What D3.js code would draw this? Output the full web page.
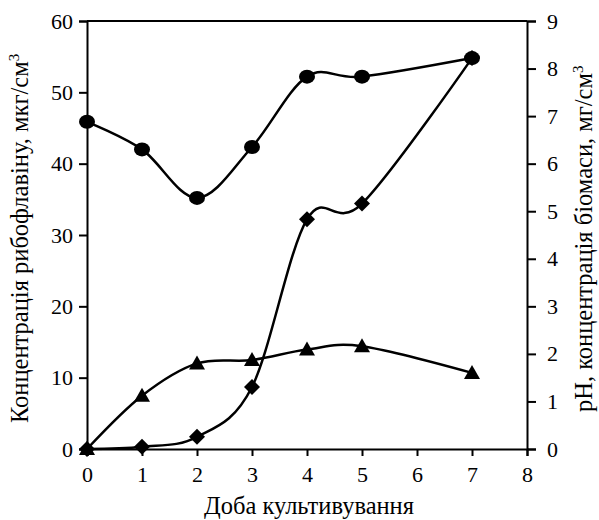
<!DOCTYPE html>
<html>
<head>
<meta charset="utf-8">
<script src="https://cdn.jsdelivr.net/npm/d3@7"></script>
</head>
<body style="margin:0; background:#fff">
<div id="chart"></div>
<script>
// --------------- Data --------------- //

// Days of cultivation
const days = [0, 1, 2, 3, 4, 5, 7];

// Riboflavin, mkg/cm3 (left axis)
const riboflavin = [0, 0.3, 1.7, 8.7, 32.2, 34.4, 54.8];

// pH (right axis)
const ph = [6.88, 6.3, 5.28, 6.35, 7.83, 7.83, 8.22];

// Biomass, mg/cm3 (right axis)
const biomass = [0, 1.12, 1.8, 1.87, 2.09, 2.16, 1.6];

const xTicks = [0, 1, 2, 3, 4, 5, 6, 7, 8];
const leftTicks = [0, 10, 20, 30, 40, 50, 60];
const rightTicks = [0, 1, 2, 3, 4, 5, 6, 7, 8, 9];

// --------------- Basic Setup --------------- //

const width = 599,
    height = 520;
const margin = {top: 21, right: 72, bottom: 71, left: 87};
const font = '"Liberation Serif", "Times New Roman", serif';

const svg = d3.select("#chart")
    .append("svg")
    .attr("width", width)
    .attr("height", height)
    .style("font-family", font);

const x = d3.scaleLinear()
    .domain([0, 8])
    .range([margin.left, width - margin.right]);

const yLeft = d3.scaleLinear()
    .domain([0, 60])
    .range([height - margin.bottom, margin.top]);

const yRight = d3.scaleLinear()
    .domain([0, 9])
    .range([height - margin.bottom, margin.top]);

// --------------- Axes --------------- //

// top border
svg.append("line")
    .attr("x1", x(0)).attr("x2", x(8))
    .attr("y1", yLeft(60)).attr("y2", yLeft(60))
    .attr("stroke", "#000").attr("stroke-width", 2);

const xAxis = svg.append("g")
    .attr("transform", `translate(0,${height - margin.bottom})`)
    .call(d3.axisBottom(x).tickValues(xTicks).tickSize(7).tickPadding(10).tickFormat(d3.format("d")));

const leftAxis = svg.append("g")
    .attr("transform", `translate(${margin.left},0)`)
    .call(d3.axisLeft(yLeft).tickValues(leftTicks).tickSize(8).tickPadding(6));

const rightAxis = svg.append("g")
    .attr("transform", `translate(${width - margin.right},0)`)
    .call(d3.axisRight(yRight).tickValues(rightTicks).tickSize(9).tickPadding(11));

[xAxis, leftAxis, rightAxis].forEach(g => {
    g.attr("font-family", null).attr("font-size", null);
    g.select(".domain").attr("stroke", "#000").attr("stroke-width", 2);
    g.selectAll(".tick line").attr("stroke", "#000").attr("stroke-width", 2);
    g.selectAll(".tick text")
        .style("font-family", font)
        .style("font-size", "22px")
        .attr("fill", "#000");
});

// Axis titles
svg.append("text")
    .attr("x", 309)
    .attr("y", 514)
    .attr("text-anchor", "middle")
    .style("font-family", font)
    .style("font-size", "24.5px")
    .text("Доба культивування");

const leftTitle = svg.append("text")
    .attr("transform", "translate(28,423) rotate(-90)")
    .style("font-family", font)
    .style("font-size", "24.5px");
leftTitle.append("tspan").text("Концентрація рибофлавіну, мкг/см");
leftTitle.append("tspan").attr("dy", -9).style("font-size", "15px").text("3");

const rightTitle = svg.append("text")
    .attr("transform", "translate(592,412) rotate(-90)")
    .style("font-family", font)
    .style("font-size", "24.5px");
rightTitle.append("tspan").text("pH, концентрація біомаси, мг/см");
rightTitle.append("tspan").attr("dy", -9).style("font-size", "15px").text("3");

// --------------- Lines --------------- //

const curve = d3.curveCatmullRom.alpha(0);

function drawLine(values, yScale) {
    const line = d3.line()
        .x((d, i) => x(days[i]))
        .y(d => yScale(d))
        .curve(curve);
    svg.append("path")
        .datum(values)
        .attr("d", line)
        .attr("fill", "none")
        .attr("stroke", "#000")
        .attr("stroke-width", 2.5);
}

drawLine(ph, yRight);
drawLine(biomass, yRight);
drawLine(riboflavin, yLeft);

// --------------- Markers --------------- //

// pH - circles
svg.append("g")
    .selectAll("ellipse")
    .data(ph)
    .join("ellipse")
    .attr("cx", (d, i) => x(days[i]))
    .attr("cy", d => yRight(d))
    .attr("rx", 8)
    .attr("ry", 7);

// biomass - triangles
svg.append("g")
    .selectAll("path")
    .data(biomass)
    .join("path")
    .attr("transform", (d, i) => `translate(${x(days[i])},${yRight(d)})`)
    .attr("d", "M0,-8 L8,6 L-8,6 Z");

// riboflavin - diamonds
svg.append("g")
    .selectAll("path")
    .data(riboflavin)
    .join("path")
    .attr("transform", (d, i) => `translate(${x(days[i])},${yLeft(d)})`)
    .attr("d", "M0,-8 L8,0 L0,8 L-8,0 Z");
</script>
</body>
</html>
